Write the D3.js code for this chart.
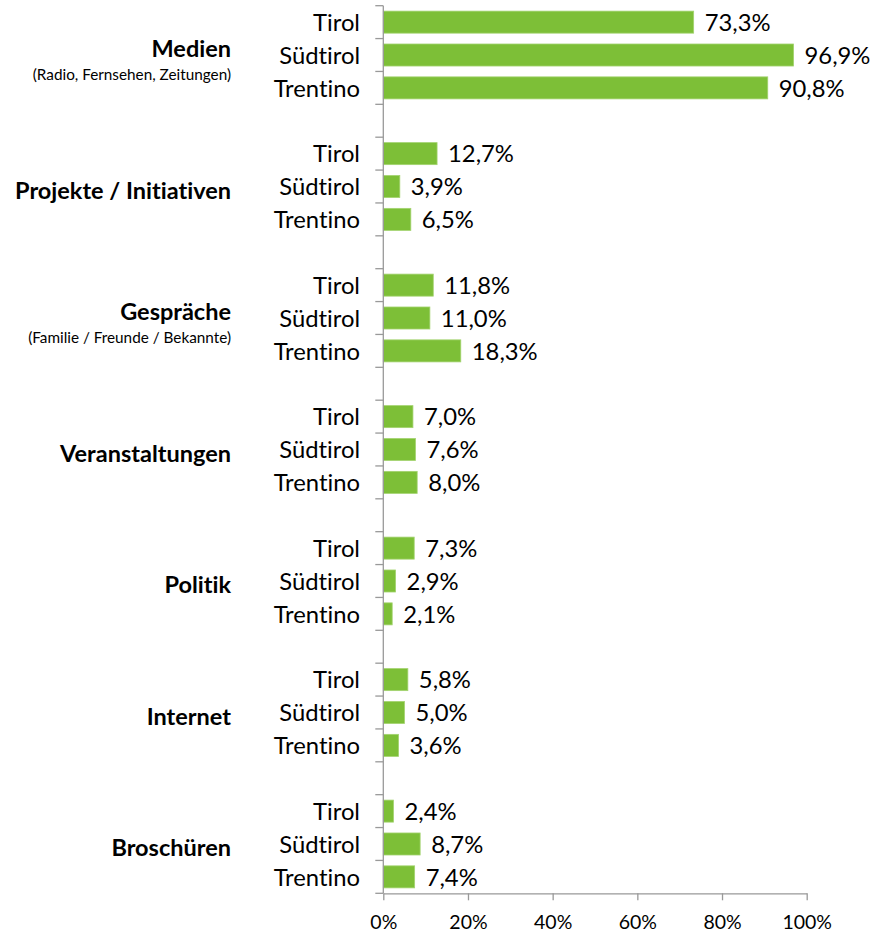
<!DOCTYPE html>
<html><head><meta charset="utf-8">
<script src="https://cdn.jsdelivr.net/npm/d3@7"></script>
<style>
html,body{margin:0;padding:0;background:#fff;}
text{font-family:Lato, "Open Sans", sans-serif;font-variant-ligatures:none;font-feature-settings:"liga" 0;}
</style></head>
<body>
<svg id="c" width="870" height="933"></svg>
<script>
const groups = ["Medien","Projekte / Initiativen","Gespräche","Veranstaltungen","Politik","Internet","Broschüren"];
const subtitles = ["(Radio, Fernsehen, Zeitungen)","","(Familie / Freunde / Bekannte)","","","",""];
const regions = ["Tirol","Südtirol","Trentino"];
const tirol    = [73.3,12.7,11.8,7.0,7.3,5.8,2.4];
const suedtirol= [96.9,3.9,11.0,7.6,2.9,5.0,8.7];
const trentino = [90.8,6.5,18.3,8.0,2.1,3.6,7.4];
const xTicks = [0,20,40,60,80,100];

(function () {
const series = [tirol, suedtirol, trentino];
const fmt = v => v.toFixed(1).replace(".", ",") + "%";

const svg = d3.select("#c");
const slots = [];
groups.forEach((g, gi) => {
  regions.forEach(r => slots.push(gi + "|" + r));
  if (gi < groups.length - 1) slots.push(gi + "|gap");
});

const x = d3.scaleLinear().domain([0, 100]).range([383.3, 806.7]);
const y = d3.scaleBand().domain(slots).range([5.7, 893.3]).paddingInner(0.33).paddingOuter(0.165);
const step = y.step(), bw = y.bandwidth();
const axisCol = "#999999";
const green = "#7dbf37";

const rows = [];
groups.forEach((g, gi) => regions.forEach((r, ri) => rows.push({gi, r, v: series[ri][gi], key: gi + "|" + r})));

svg.append("g").selectAll("rect").data(rows).join("rect")
  .attr("x", x(0)).attr("y", d => y(d.key))
  .attr("width", d => x(d.v) - x(0)).attr("height", bw)
  .attr("fill", green).attr("stroke", "#a3d36f").attr("stroke-width", 0.8);

svg.append("g").selectAll("text").data(rows).join("text")
  .attr("x", d => x(d.v) + 11).attr("y", d => y(d.key) + bw / 2 + 8.7)
  .attr("font-size", 23.8).attr("fill", "#000").text(d => fmt(d.v));

svg.append("g").selectAll("text").data(rows).join("text")
  .attr("x", 360).attr("y", d => y(d.key) + bw / 2 + 8.7)
  .attr("text-anchor", "end").attr("font-size", 23.8).attr("fill", "#000").text(d => d.r);

const gl = svg.append("g");
groups.forEach((g, gi) => {
  const c = y(gi + "|Südtirol") + bw / 2;
  const sub = subtitles[gi];
  gl.append("text").attr("x", 231).attr("y", sub ? c + 2 : c + 12.5)
    .attr("text-anchor", "end").attr("font-size", 23.5).attr("font-weight", "bold").attr("fill", "#000").text(g);
  if (sub) gl.append("text").attr("x", 231).attr("y", c + 25)
    .attr("text-anchor", "end").attr("font-size", 15.3).attr("fill", "#000").text(sub);
});

const yTop = y.range()[0], yBottom = y.range()[1];
const ya = svg.append("g").attr("stroke", axisCol).attr("stroke-width", 1.3);
ya.append("line").attr("x1", x(0)).attr("x2", x(0)).attr("y1", yTop).attr("y2", yBottom);
const bounds = slots.map(s => y(s) - step * y.paddingInner() / 2).concat([yBottom]);
ya.selectAll("line.t").data(bounds).join("line").attr("class", "t")
  .attr("x1", x(0) - 8).attr("x2", x(0)).attr("y1", d => d).attr("y2", d => d);

const xa = svg.append("g").attr("transform", `translate(0,${yBottom})`)
  .call(d3.axisBottom(x).tickValues(xTicks).tickSize(7).tickSizeOuter(0).tickFormat(d => d + "%"));
xa.select(".domain").attr("stroke", axisCol).attr("stroke-width", 1.3);
xa.selectAll(".tick line").attr("stroke", axisCol).attr("stroke-width", 1.3);
xa.selectAll(".tick text").attr("font-size", 19.5).attr("fill", "#000").attr("dy", 0).attr("y", 35.5)
  .attr("font-family", "Lato, sans-serif");
})();
</script>
</body></html>
